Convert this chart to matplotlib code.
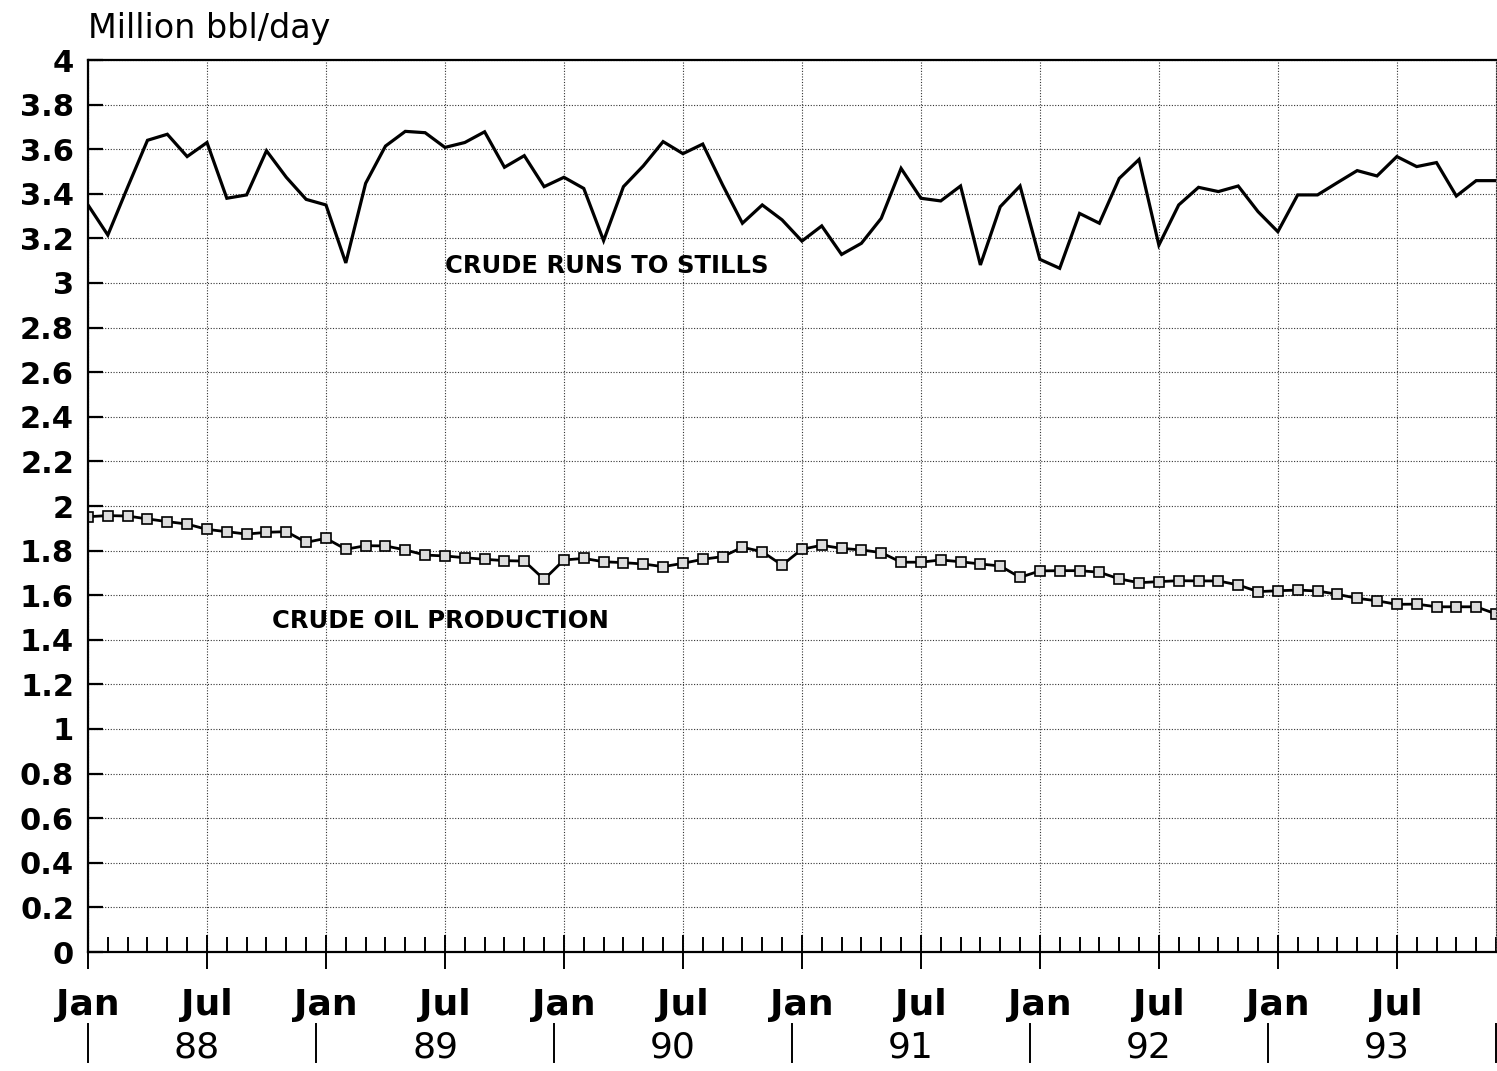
import matplotlib
matplotlib.use("Agg")
import matplotlib.pyplot as plt
import matplotlib.transforms as mtransforms
import numpy as np

# ---------------- data ----------------
crude_runs = [3.35, 3.215, 3.43, 3.64, 3.667, 3.567, 3.63, 3.38, 3.395, 3.593, 3.474, 3.375,
              3.35, 3.09, 3.447, 3.614, 3.68, 3.674, 3.608, 3.63, 3.678, 3.519, 3.571, 3.432,
              3.474, 3.424, 3.19, 3.432, 3.525, 3.634, 3.58, 3.623, 3.44, 3.268, 3.35, 3.283,
              3.188, 3.256, 3.128, 3.178, 3.29, 3.514, 3.38, 3.368, 3.435, 3.081, 3.342, 3.435,
              3.106, 3.066, 3.312, 3.268, 3.469, 3.554, 3.17, 3.35, 3.429, 3.41, 3.435, 3.32,
              3.23, 3.395, 3.395, 3.45, 3.504, 3.48, 3.567, 3.522, 3.54, 3.39, 3.459, 3.459]

crude_production = [1.952, 1.957, 1.955, 1.942, 1.93, 1.919, 1.895, 1.885, 1.874, 1.882, 1.885, 1.837,
                    1.855, 1.806, 1.822, 1.821, 1.803, 1.78, 1.776, 1.768, 1.761, 1.755, 1.753, 1.671,
                    1.758, 1.765, 1.75, 1.746, 1.74, 1.728, 1.743, 1.761, 1.773, 1.815, 1.795, 1.735,
                    1.806, 1.824, 1.81, 1.803, 1.791, 1.748, 1.748, 1.758, 1.75, 1.74, 1.731, 1.68,
                    1.709, 1.71, 1.71, 1.703, 1.673, 1.656, 1.661, 1.665, 1.664, 1.664, 1.646, 1.616,
                    1.62, 1.623, 1.619, 1.604, 1.586, 1.575, 1.559, 1.56, 1.548, 1.548, 1.548, 1.516]

month_labels = ["Jan", "Jul"] * 6
years = ["88", "89", "90", "91", "92", "93"]
y_ticks = [0, 0.2, 0.4, 0.6, 0.8, 1, 1.2, 1.4, 1.6, 1.8, 2, 2.2, 2.4, 2.6, 2.8, 3,
           3.2, 3.4, 3.6, 3.8, 4]
y_tick_labels = ["0", "0.2", "0.4", "0.6", "0.8", "1", "1.2", "1.4", "1.6", "1.8", "2",
                 "2.2", "2.4", "2.6", "2.8", "3", "3.2", "3.4", "3.6", "3.8", "4"]
unit_label = "Million bbl/day"
runs_label = "CRUDE RUNS TO STILLS"
prod_label = "CRUDE OIL PRODUCTION"

# ---------------- figure ----------------
plt.rcParams['font.family'] = ['DejaVu Sans']
W, H = 1497, 1071
fig = plt.figure(figsize=(W / 100, H / 100), dpi=100)
ax = fig.add_axes([88 / W, 1 - 952 / H, (1496 - 88) / W, (952 - 60) / H])

x = np.arange(len(crude_runs))
ax.plot(x, crude_runs, color="black", lw=2.3, solid_joinstyle="miter")
ax.plot(x, crude_production, color="black", lw=2.0, marker="s", markersize=6.5,
        markerfacecolor="#dddddd", markeredgecolor="black", markeredgewidth=1.2)

ax.set_xlim(0, len(crude_runs) - 1)
ax.set_ylim(0, 4)

# x ticks
major_x = np.arange(0, len(crude_runs), 6)
ax.set_xticks(major_x)
ax.set_xticklabels(month_labels, fontsize=26, fontweight="bold")
ax.set_xticks(np.arange(0, len(crude_runs)), minor=True)
ax.tick_params(axis="x", which="major", direction="inout", length=24, width=1.4,
               pad=14, colors="black")
ax.tick_params(axis="x", which="minor", direction="in", length=11, width=1.4)

# y ticks
ax.set_yticks(y_ticks)
ax.set_yticklabels(y_tick_labels, fontsize=22, fontweight="bold")
ax.tick_params(axis="y", which="major", direction="in", length=11, width=1.6, pad=10)

# grid
ax.grid(True, which="major", axis="both", color="#333333", linestyle=(0, (1, 1.5)), lw=0.8)
ax.set_axisbelow(True)

for s in ["left", "bottom", "top"]:
    ax.spines[s].set_linewidth(1.6)
ax.spines["right"].set_linestyle((0, (1, 1.5)))
ax.spines["right"].set_linewidth(0.8)
ax.spines["right"].set_color("#333333")

# year labels and separators
trans = mtransforms.blended_transform_factory(ax.transData, fig.transFigure)
for i, yr in enumerate(years):
    ax.text(i * 12 + 5.5, 1 - 1048 / H, yr, transform=trans, ha="center", va="center",
            fontsize=26, clip_on=False)
seps = [0] + [i * 12 - 0.5 for i in range(1, len(years))] + [len(crude_runs) - 1]
for s in seps:
    ax.plot([s, s], [1 - 1024 / H, 1 - 1062 / H], transform=trans, color="black",
            lw=1.4, clip_on=False)

# series labels
ax.text(18.0, 3.076, runs_label, fontsize=17.5, fontweight="bold", ha="left", va="center")
ax.text(9.28, 1.484, prod_label, fontsize=17.5, fontweight="bold", ha="left", va="center")

# unit label
fig.text(88 / W, 1 - 38 / H, unit_label, fontsize=24, ha="left", va="baseline")

fig.savefig("out.png", dpi=100)
